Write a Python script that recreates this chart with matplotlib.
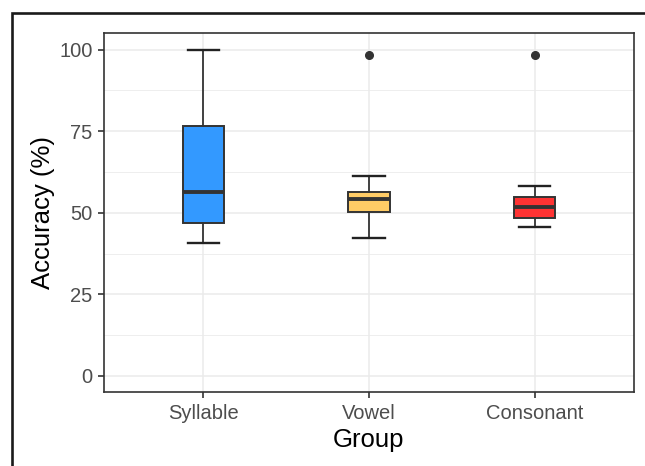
import matplotlib
matplotlib.use('Agg')
import matplotlib.pyplot as plt
from matplotlib.patches import Rectangle

plt.rcParams['font.family'] = ['Liberation Sans', 'DejaVu Sans']

# Box statistics (accuracy in %)
groups = ["Syllable", "Vowel", "Consonant"]
whisker_low = [40.8, 42.4, 45.5]
q1 = [47.0, 50.2, 48.5]
median = [56.5, 54.1, 51.8]
q3 = [76.7, 56.3, 54.8]
whisker_high = [100.0, 61.2, 58.1]
outliers = [[], [98.4], [98.4]]
box_colors = ["#3399FF", "#FFCC66", "#FF3333"]
y_ticks = [0, 25, 50, 75, 100]

fig = plt.figure(figsize=(6.45, 4.66), dpi=100)
ax = fig.add_axes([104 / 645, 1 - 392.3 / 466, 530 / 645, (392.3 - 33.3) / 466])

# outer frame round the figure (cut at right and bottom)
fig.patches.append(Rectangle((12 / 645, -0.05), 1.0, 1 - 13 / 466 + 0.05,
                             transform=fig.transFigure, fill=False,
                             edgecolor="#1a1a1a", linewidth=1.9, zorder=10))

stats = []
for i, g in enumerate(groups):
    stats.append(dict(label=g, whislo=whisker_low[i], q1=q1[i], med=median[i],
                      q3=q3[i], whishi=whisker_high[i], fliers=outliers[i]))

positions = list(range(len(groups)))
bp = ax.bxp(stats, positions=positions, widths=0.25, patch_artist=True,
            showcaps=True, capwidths=0.19,
            boxprops=dict(edgecolor="#333333", linewidth=1.4),
            medianprops=dict(color="#333333", linewidth=2.8),
            whiskerprops=dict(color="#333333", linewidth=1.3),
            capprops=dict(color="#222222", linewidth=1.7),
            flierprops=dict(marker="o", markerfacecolor="#333333",
                            markeredgecolor="#333333", markersize=5.5),
            zorder=3)
for patch, c in zip(bp["boxes"], box_colors):
    patch.set_facecolor(c)

ax.set_xlim(-0.6, 2.6)
ax.set_ylim(-5, 105)
ax.set_yticks(y_ticks)
ax.set_yticks([12.5, 37.5, 62.5, 87.5], minor=True)
ax.set_xticks(positions)
ax.set_xticklabels(groups)

ax.grid(True, which="major", color="#EBEBEB", linewidth=1.1, zorder=0)
ax.grid(True, which="minor", axis="y", color="#EBEBEB", linewidth=0.6, zorder=0)
ax.set_axisbelow(True)

for s in ax.spines.values():
    s.set_color("#333333")
    s.set_linewidth(1.2)

ax.tick_params(axis="both", which="major", length=4.3, width=1.2, color="#333333",
               labelcolor="#4D4D4D", labelsize=14.5, pad=4)
ax.tick_params(axis="both", which="minor", length=0)

ax.set_xlabel("Group", fontsize=18.5, color="black", labelpad=4)
ax.set_ylabel("Accuracy (%)", fontsize=18.5, color="black", labelpad=3)

fig.savefig("out.png", dpi=100)
